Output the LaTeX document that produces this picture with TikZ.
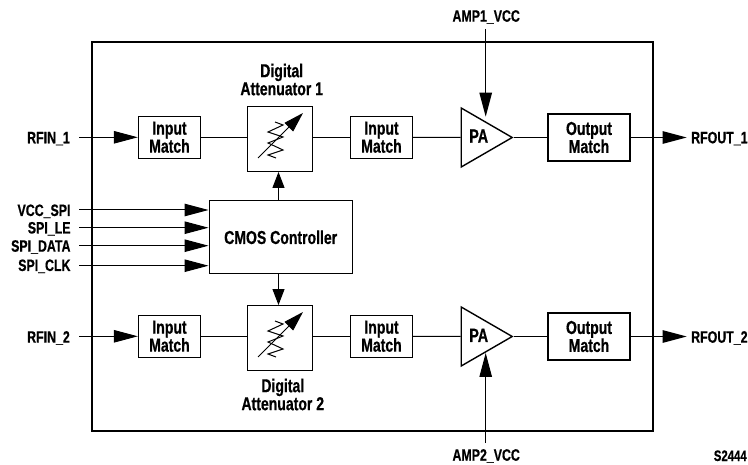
\documentclass[tikz,border=0pt]{standalone}
\usepackage{fontspec}
\setmainfont{Liberation Sans}[FakeStretch=0.75,BoldFeatures={FakeBold=0.6}]
\usetikzlibrary{arrows.meta,shapes.geometric}
\tikzset{
  lbl/.style={font=\bfseries\fontsize{18.7}{18}\selectfont,inner sep=0pt,align=center},
  pin/.style={font=\bfseries\fontsize{16.5}{16}\selectfont,inner sep=0pt},
  palbl/.style={font=\bfseries\fontsize{19.2}{18}\selectfont,inner sep=0pt,anchor=base},
  block/.style={draw,line width=1.4pt,lbl,align=center},
  imatch/.style={block,minimum width=62pt,minimum height=42pt},
  omatch/.style={block,minimum width=82.3pt,minimum height=47.3pt},
  atten/.style={block,minimum width=64.5pt,minimum height=64.5pt},
  amp/.style={draw,line width=1.4pt,isosceles triangle,isosceles triangle stretches,shape border rotate=0,minimum width=59pt,minimum height=51pt,inner sep=0pt,anchor=west},
  wire/.style={line width=1pt},
  sig/.style={wire,-{Triangle[length=24pt,width=12.5pt]}},
  sigshort/.style={wire,-{Triangle[length=16pt,width=12pt]}},
}
\begin{document}
\begin{tikzpicture}[x=1pt,y=-1pt]
\useasboundingbox (0,0) rectangle (748,465);
\node[draw,line width=1.7pt,minimum width=561pt,minimum height=389pt,inner sep=0pt] (frame) at (372.5,236.5) {};
% top row
\node[imatch] (im1) at (169.5,137.3) {Input\\Match};
\node[atten] (at1) at (280,139) {};
\node[imatch] (im2) at (381.5,137.3) {Input\\Match};
\node[amp] (pa1) at (460.5,137.5) {};
\node[palbl] (pa1t) at (478.7,142.7) {PA};
\node[omatch] (om1) at (589,137.5) {Output\\Match};
% bottom row
\node[imatch] (im3) at (169.5,336.3) {Input\\Match};
\node[atten] (at2) at (280,338) {};
\node[imatch] (im4) at (381.5,336.3) {Input\\Match};
\node[amp] (pa2) at (460.5,336.5) {};
\node[palbl] (pa2t) at (478.7,342) {PA};
\node[omatch] (om2) at (589,336.5) {Output\\Match};
% controller
\node[block,minimum width=143pt,minimum height=73pt] (cmos) at (280.7,237.3) {CMOS Controller};
% captions
\node[lbl] (cap1) at (281.7,79.5) {Digital\\Attenuator 1};
\node[lbl] (cap2) at (282.8,394.5) {Digital\\Attenuator 2};
% pin labels
\node[pin,anchor=base east] (rfin1) at (70,143.3) {RFIN\_1};
\node[pin,anchor=base east] (rfin2) at (70,342.7) {RFIN\_2};
\node[pin,anchor=base west] (rfout1) at (691,143.3) {RFOUT\_1};
\node[pin,anchor=base west] (rfout2) at (691,342.7) {RFOUT\_2};
\node[pin,anchor=base east] (vcc) at (70.7,216) {VCC\_SPI};
\node[pin,anchor=base east] (le) at (70.7,233.5) {SPI\_LE};
\node[pin,anchor=base east] (data) at (70.7,251.7) {SPI\_DATA};
\node[pin,anchor=base east] (clk) at (70.7,271) {SPI\_CLK};
\node[pin,anchor=base] (amp1) at (486.2,21.7) {AMP1\_VCC};
\node[pin,anchor=base] (amp2) at (486.2,460.7) {AMP2\_VCC};
\node[pin,anchor=base east,font=\bfseries\fontsize{15.2}{15}\selectfont] (code) at (747,461) {S2444};
% free ends and connection points
\coordinate (p1top) at (485.7,116.7);
\coordinate (p2bot) at (485.7,353);
\coordinate (a1t) at (485.7,29);
\coordinate (a2b) at (485.7,443);
\coordinate (inr1) at (79,137.3);
\coordinate (inr2) at (79,336.3);
\coordinate (outr1) at (686.7,137.5);
\coordinate (outr2) at (686.7,336.5);
\coordinate (sv) at (79.3,210);
\coordinate (sl) at (79.3,227.7);
\coordinate (sd) at (79.3,245.7);
\coordinate (sc) at (79.3,265.7);
% connectors
\draw[sig] (inr1) -- (im1.west);
\draw[wire] (im1) -- (at1.west |- im1);
\draw[wire] (at1.east |- im2) -- (im2);
\draw[wire] (im2) -- (pa1.west);
\draw[wire] (pa1.apex) -- (om1.west);
\draw[sig] (om1.east) -- (outr1);
\draw[sig] (inr2) -- (im3.west);
\draw[wire] (im3) -- (at2.west |- im3);
\draw[wire] (at2.east |- im4) -- (im4);
\draw[wire] (im4) -- (pa2.west);
\draw[wire] (pa2.apex) -- (om2.west);
\draw[sig] (om2.east) -- (outr2);
\draw[sig] (sv) -- (sv -| cmos.west);
\draw[sig] (sl) -- (sl -| cmos.west);
\draw[sig] (sd) -- (sd -| cmos.west);
\draw[sig] (sc) -- (sc -| cmos.west);
\draw[sigshort] ([xshift=-1.5pt]cmos.north -| at1) -- ([xshift=-1.5pt]at1.south);
\draw[sigshort] ([xshift=-1.5pt]cmos.south -| at2) -- ([xshift=-1.5pt]at2.north);
\draw[sig] (a1t) -- (p1top);
\draw[sig] (a2b) -- (p2bot);
% attenuator symbols
\foreach \y/\n in {0/a,199/b}{
  \draw[line width=1pt] (275,122+\y) -- (283,125+\y) -- (268,132+\y) -- (283,137+\y) -- (268,143+\y) -- (283,150+\y) -- (268,155+\y) -- (276,158+\y);
  \draw[line width=1pt,-{Triangle[length=20pt,width=12pt]}] (258,158+\y) -- (303,113+\y);
}
\end{tikzpicture}
\end{document}
